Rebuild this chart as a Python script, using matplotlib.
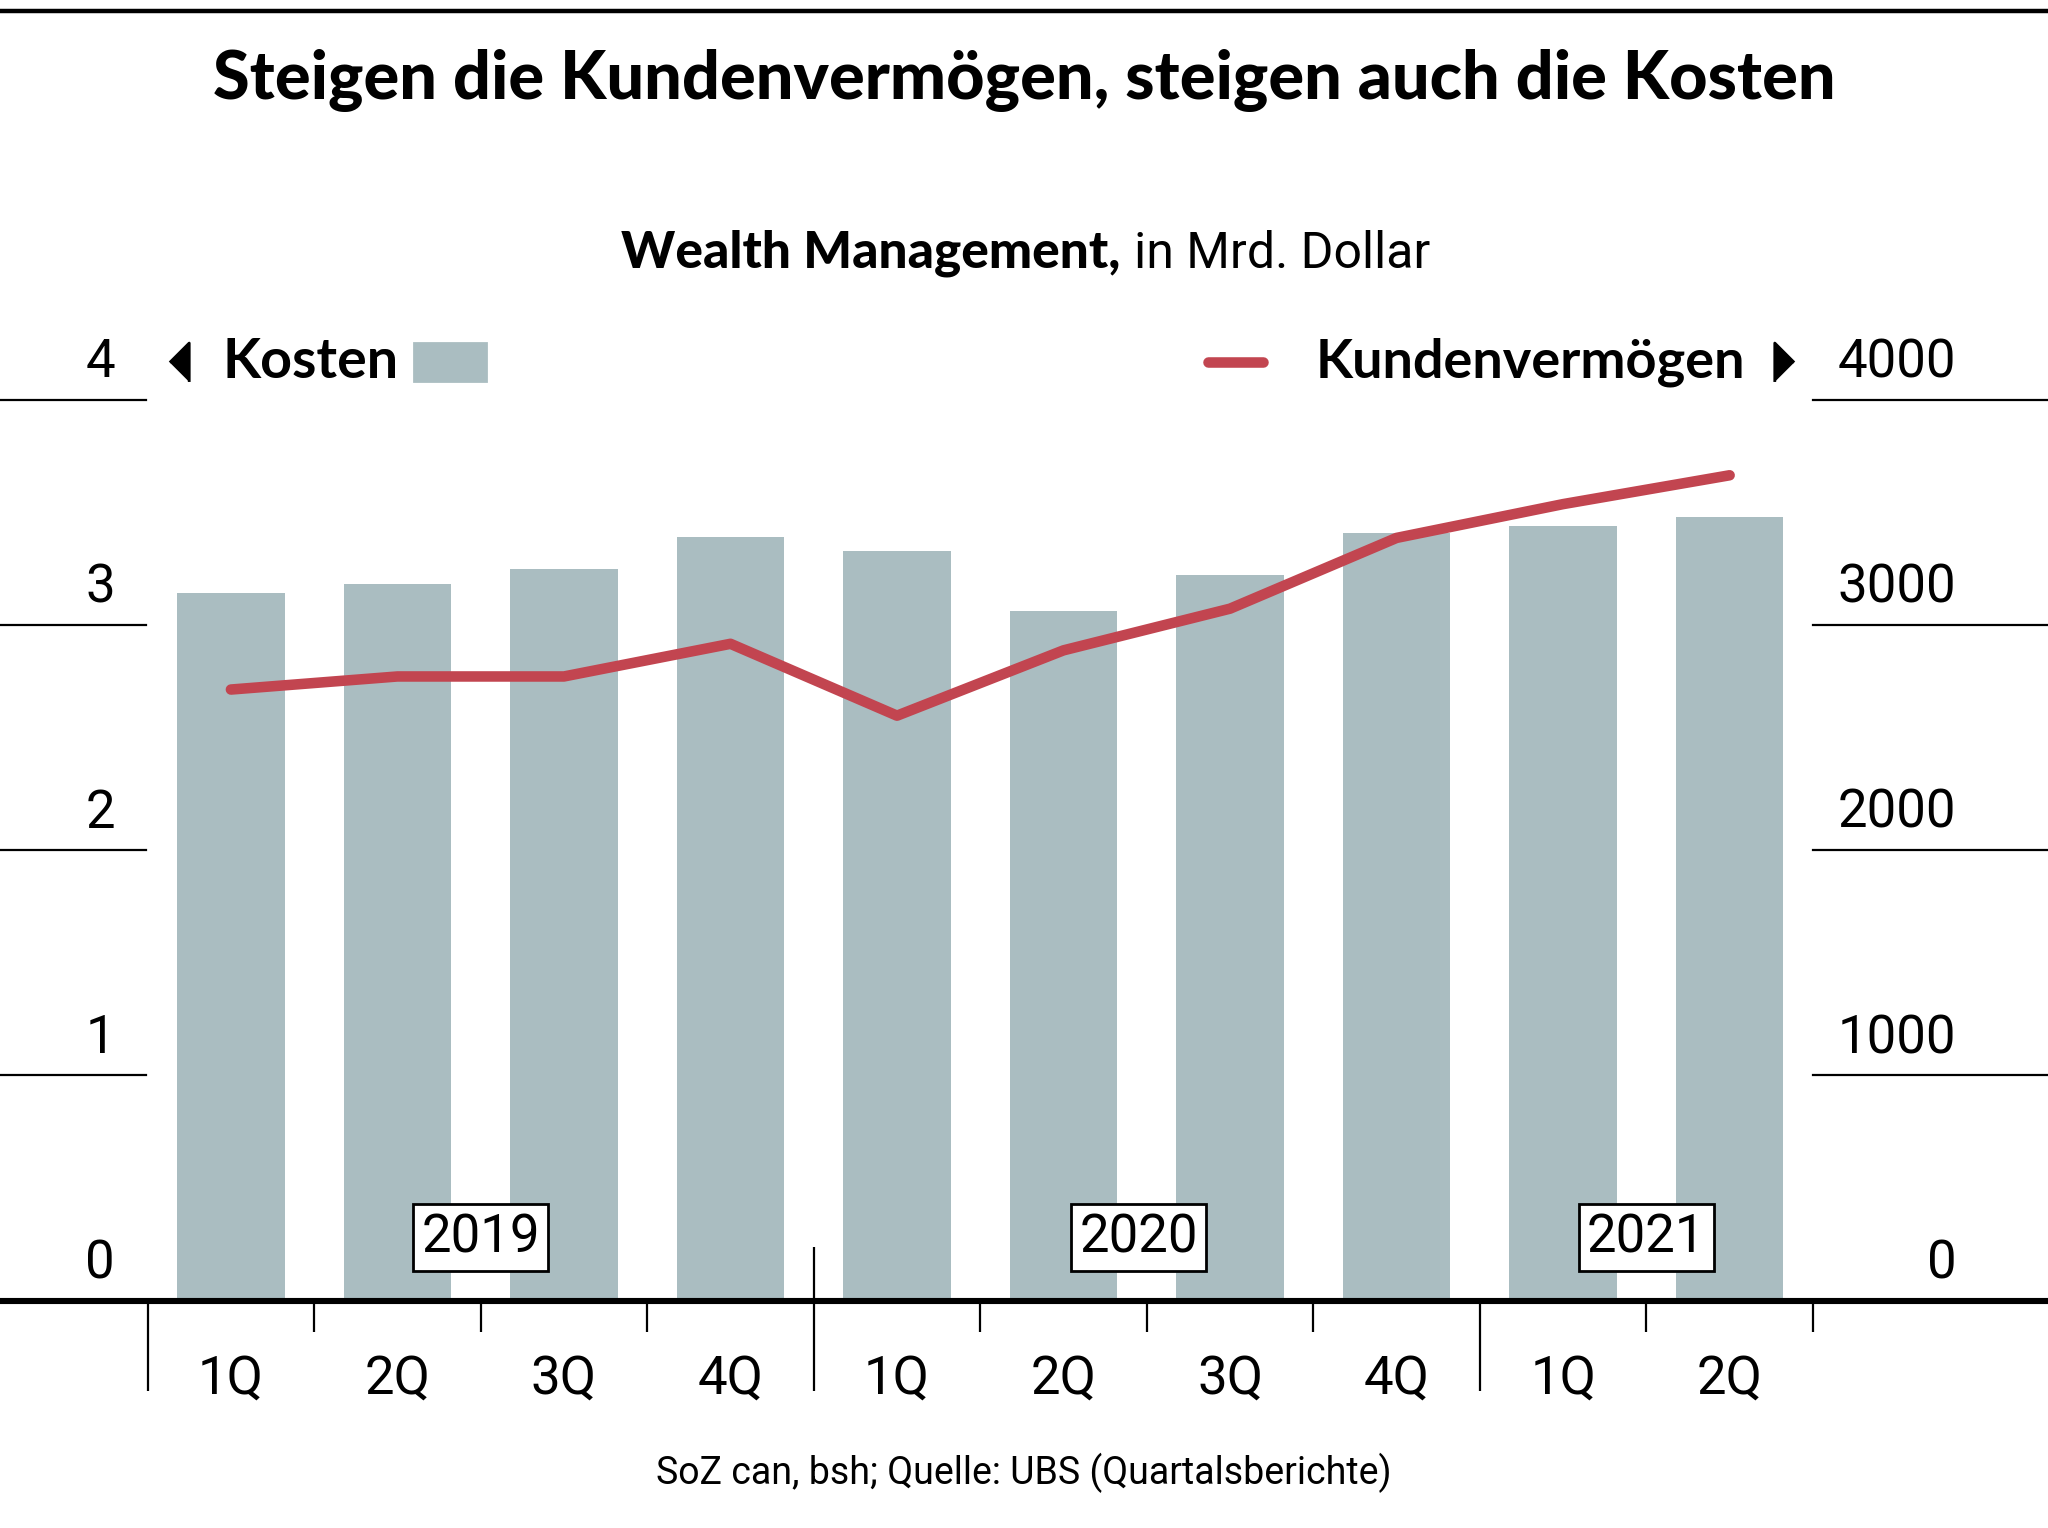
# Wealth Management: Kosten (bars, left axis) vs Kundenvermögen (line, right axis)
import matplotlib.pyplot as plt
from matplotlib.patches import Rectangle

# Data
quarters = ["1Q", "2Q", "3Q", "4Q", "1Q", "2Q", "3Q", "4Q", "1Q", "2Q"]
years = ["2019", "2020", "2021"]
kosten = [3.14, 3.18, 3.25, 3.39, 3.33, 3.06, 3.22, 3.41, 3.44, 3.48]
vermoegen = [2713, 2771, 2771, 2916, 2597, 2887, 3072, 3386, 3536, 3664]
left_ticks = [0, 1, 2, 3, 4]
right_ticks = [0, 1000, 2000, 3000, 4000]

bar_color = "#aabdc1"
line_color = "#c24550"
num_font = "Roboto"
bold_font = "Lato"

fig = plt.figure(figsize=(10.24, 7.64), dpi=200)

# Axes placed so that the plot area matches the reference
ax = fig.add_axes([0.0721, 0.1487, 0.8131, 0.5898])
ax2 = ax.twinx()
ax.set_zorder(1)
ax2.set_zorder(2)
ax.patch.set_visible(False)
ax2.patch.set_visible(False)

x = list(range(len(quarters)))

# Bars
ax.bar(x, kosten, width=0.645, color=bar_color, zorder=2)
ax.set_xlim(-0.5, len(quarters) - 0.5)
ax.set_ylim(0, 4)

# Line
ax2.plot(x, vermoegen, color=line_color, lw=3.8, solid_joinstyle="round",
         solid_capstyle="round", zorder=3)
ax2.set_ylim(0, 4000)

for a in (ax, ax2):
    for s in a.spines.values():
        s.set_visible(False)
    a.set_yticks([])
ax2.set_xticks([])

# Quarter labels
ax.set_xticks(x)
ax.set_xticklabels(quarters, fontsize=19, fontfamily=num_font)
ax.tick_params(axis="x", length=0, pad=19)

# Horizontal rules left and right of the plot + tick numbers
for v in left_ticks:
    if v > 0:
        ax.axhline(v, xmin=-0.0886, xmax=-0.001, color="black", lw=0.8,
                   clip_on=False)
        ax.axhline(v, xmin=1.0, xmax=1.1404, color="black", lw=0.8,
                   clip_on=False)
    ax.text(-0.0196, v + 0.05, str(v), transform=ax.get_yaxis_transform(),
            ha="right", va="bottom", fontsize=19, fontfamily=num_font)
for v in right_ticks:
    ax2.text(1.0863, v + 50, str(v), transform=ax2.get_yaxis_transform(),
             ha="right", va="bottom", fontsize=19, fontfamily=num_font)

# Thick baseline across the full width
ax.axhline(0, xmin=-0.0886, xmax=1.1404, color="black", lw=2.2,
           clip_on=False, zorder=4)

# Boundary ticks below the baseline
for b in [-0.5 + i for i in range(len(quarters) + 1)]:
    if b in (-0.5, 3.5, 7.5):
        top = 0.238 if b == 3.5 else 0
        ax.vlines(b, -0.40, top, color="black", lw=0.8, clip_on=False, zorder=4)
    else:
        ax.vlines(b, -0.14, 0, color="black", lw=0.8, clip_on=False, zorder=4)

# Year boxes
for yr, xc in zip(years, [1.5, 5.45, 8.5]):
    ax.text(xc, 0.28, yr, ha="center", va="center", fontsize=19,
            fontfamily=num_font, zorder=5,
            bbox=dict(boxstyle="square,pad=0.15", fc="white", ec="black", lw=1.0))

# Top rule
fig.add_artist(plt.Line2D([0, 1], [0.993, 0.993], color="black", lw=1.6))

# Titles
fig.text(0.5, 0.947, "Steigen die Kundenvermögen, steigen auch die Kosten",
         ha="center", va="center", fontsize=24, fontweight="black",
         fontfamily=bold_font)
fig.text(0.547, 0.834, "Wealth Management,", ha="right", va="center",
         fontsize=18.5, fontweight="black", fontfamily=bold_font)
fig.text(0.5536, 0.834, "in Mrd. Dollar", ha="left", va="center",
         fontsize=18, fontfamily=num_font)

# Legend row
ly = 0.763
ax.plot([0.0874], [ly], marker=[(-0.5, 0), (0.5, 1), (0.5, -1)], ms=14,
        color="black", transform=fig.transFigure, clip_on=False)
fig.text(0.1084, ly, "Kosten", ha="left", va="center", fontsize=20,
         fontweight="bold", fontfamily=bold_font)
fig.add_artist(Rectangle((0.2022, ly - 0.0124), 0.0351, 0.0248,
                         transform=fig.transFigure, color=bar_color))
fig.add_artist(plt.Line2D([0.590, 0.6165], [ly, ly], color=line_color, lw=3.8,
                          solid_capstyle="round"))
fig.text(0.6425, ly, "Kundenvermögen", ha="left", va="center", fontsize=19.5,
         fontweight="bold", fontfamily=bold_font)
ax.plot([0.8712], [ly], marker=[(0.5, 0), (-0.5, 1), (-0.5, -1)], ms=14,
        color="black", transform=fig.transFigure, clip_on=False)

# Source
fig.text(0.5, 0.036, "SoZ can, bsh; Quelle: UBS (Quartalsberichte)",
         ha="center", va="center", fontsize=13.5, fontfamily=num_font)

fig.savefig("out.png", dpi=200, facecolor="white")
